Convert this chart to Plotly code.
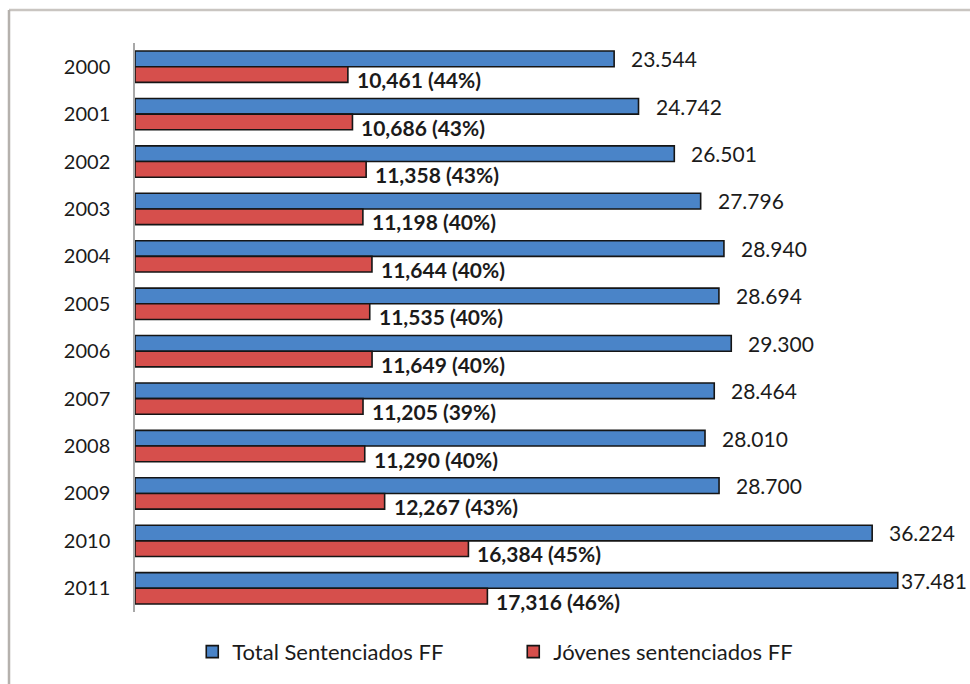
import plotly.graph_objects as go

# Federal-jurisdiction sentences per year: total vs. young offenders
years = ["2000", "2001", "2002", "2003", "2004", "2005",
         "2006", "2007", "2008", "2009", "2010", "2011"]
total_sentenciados = [23544, 24742, 26501, 27796, 28940, 28694,
                      29300, 28464, 28010, 28700, 36224, 37481]
jovenes_sentenciados = [10461, 10686, 11358, 11198, 11644, 11535,
                        11649, 11205, 11290, 12267, 16384, 17316]
jovenes_pct = [44, 43, 43, 40, 40, 40, 40, 39, 40, 43, 45, 46]

BLUE = "#4A84C8"
RED = "#D64F4C"
EDGE = "#151515"
FONT = "Lato, 'Open Sans', sans-serif"
TEXT = "#1b1b1b"

W, H = 970, 684
M_L, M_R, M_T, M_B = 135, 10, 43, 72
X_MAX = 40540
plot_w = W - M_L - M_R
plot_h = H - M_T - M_B
px_per_unit = plot_w / X_MAX

fig = go.Figure()
fig.add_trace(go.Bar(
    y=years, x=total_sentenciados, orientation="h",
    name="Total Sentenciados FF",
    marker=dict(color=BLUE, line=dict(color=EDGE, width=1.6)),
    hoverinfo="x+y",
))
fig.add_trace(go.Bar(
    y=years, x=jovenes_sentenciados, orientation="h",
    name="Jóvenes sentenciados FF",
    marker=dict(color=RED, line=dict(color=EDGE, width=1.6)),
    hoverinfo="x+y",
))

annotations = []
for i, (tot, jov, pct) in enumerate(zip(total_sentenciados, jovenes_sentenciados, jovenes_pct)):
    # total label: to the right of the blue bar, pulled back if it would leave the chart
    txt = f"{tot:,}".replace(",", ".")
    est_w = 66
    gap = 15
    bar_px = tot * px_per_unit
    shift = gap if bar_px + gap + est_w <= plot_w + 5 else max(1, plot_w + 5 - est_w - bar_px)
    annotations.append(dict(
        x=tot, y=i, xref="x", yref="y", text=txt, showarrow=False,
        xanchor="left", yanchor="middle", xshift=shift, yshift=8,
        font=dict(family=FONT, size=21, color=TEXT),
    ))
    # young offenders label: bold, below-right of the red bar
    annotations.append(dict(
        x=jov, y=i, xref="x", yref="y", text=f"<b>{jov:,} ({pct}%)</b>",
        showarrow=False, xanchor="left", yanchor="middle", xshift=7, yshift=-13,
        font=dict(family=FONT, size=21, color=TEXT),
    ))

# light outer frame (top and left edges)
frame_x = (9 - M_L) / plot_w
frame_y = (H - M_B - 10) / plot_h
shapes = [
    dict(type="line", xref="paper", yref="paper", x0=frame_x, x1=1.1,
         y0=frame_y, y1=frame_y, line=dict(color="#C9C5C1", width=2.5)),
    dict(type="line", xref="paper", yref="paper", x0=frame_x, x1=frame_x,
         y0=frame_y, y1=-0.2, line=dict(color="#B5B1AD", width=2.5)),
]

fig.update_layout(
    width=W, height=H,
    margin=dict(l=M_L, r=M_R, t=M_T, b=M_B),
    paper_bgcolor="white", plot_bgcolor="white",
    barmode="group", bargap=0.34, bargroupgap=0.0,
    font=dict(family=FONT, size=20, color=TEXT),
    xaxis=dict(range=[0, X_MAX], visible=False, showgrid=False, zeroline=False),
    yaxis=dict(
        type="category", range=[len(years) - 0.5, -0.5], autorange=False,
        showline=True, linecolor="#A8A8A8", linewidth=1.5,
        ticks="", showgrid=False, ticklabelstandoff=19,
        tickfont=dict(family=FONT, size=20, color=TEXT),
    ),
    legend=dict(
        orientation="h", x=0.4585, xanchor="center", y=-0.07, yanchor="middle",
        font=dict(family=FONT, size=22, color=TEXT),
        itemwidth=30, entrywidth=276, entrywidthmode="pixels",
        bgcolor="rgba(0,0,0,0)",
    ),
    annotations=annotations,
    shapes=shapes,
    showlegend=True,
)

fig.write_html("out.html")
